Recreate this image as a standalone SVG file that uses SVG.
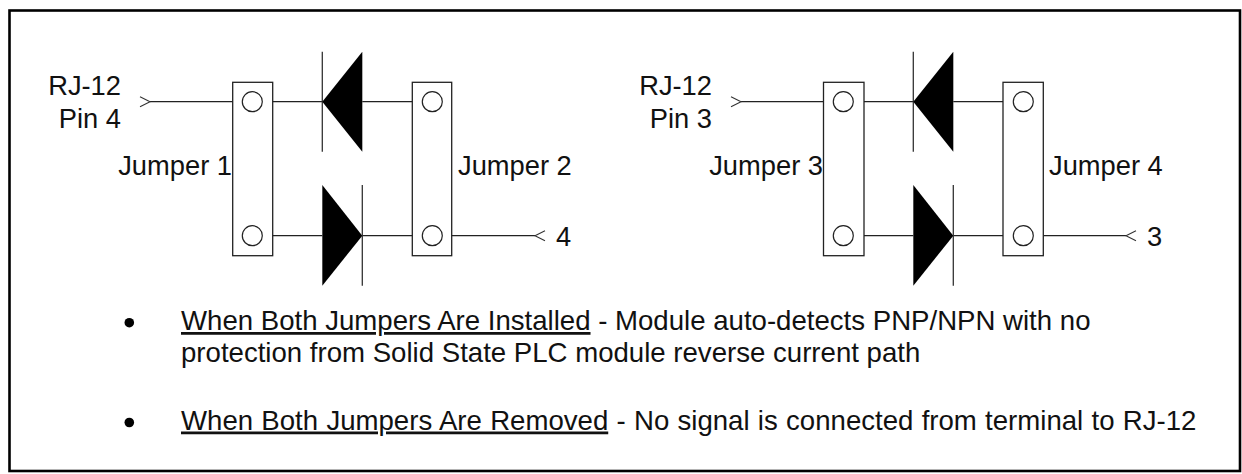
<svg xmlns="http://www.w3.org/2000/svg" width="1242" height="474" viewBox="0 0 1242 474">
  <style>
    .bg { fill: #ffffff; }
    .frame { fill: none; stroke: #000; stroke-width: 2.6; }
    .wire { fill: none; stroke: #222; stroke-width: 1.3; }
    .jbox { fill: #fff; stroke: #222; stroke-width: 1.3; }
    .pin { fill: #fff; stroke: #222; stroke-width: 1.2; }
    .tri { fill: #000; stroke: none; }
    .bar { fill: none; stroke: #333; stroke-width: 1.3; }
    .chev { fill: none; stroke: #333; stroke-width: 1.1; }
    .lbl { font-family: "Liberation Sans", Arial, sans-serif; font-size: 27.3px; fill: #111; }
    .txt { font-family: "Liberation Sans", Arial, sans-serif; font-size: 27.6px; fill: #111; }
    .bullet { fill: #000; }
  </style>
  <rect class="bg" x="0" y="0" width="1242" height="474"/>
  <rect class="frame" x="9.5" y="10.5" width="1230.5" height="460.5"/>

  <g id="connectors">
    <!-- left circuit -->
    <line class="wire" x1="150" y1="101.7" x2="242.3" y2="101.7"/>
    <line class="wire" x1="262.3" y1="101.7" x2="322.3" y2="101.7"/>
    <line class="wire" x1="362.3" y1="101.7" x2="422.3" y2="101.7"/>
    <line class="wire" x1="262.3" y1="235.7" x2="322.3" y2="235.7"/>
    <line class="wire" x1="362.3" y1="235.7" x2="422.3" y2="235.7"/>
    <line class="wire" x1="442.3" y1="235.7" x2="535" y2="235.7"/>
    <!-- right circuit -->
    <line class="wire" x1="741" y1="101.7" x2="833.3" y2="101.7"/>
    <line class="wire" x1="853.3" y1="101.7" x2="913.3" y2="101.7"/>
    <line class="wire" x1="953.3" y1="101.7" x2="1013.3" y2="101.7"/>
    <line class="wire" x1="853.3" y1="235.7" x2="913.3" y2="235.7"/>
    <line class="wire" x1="953.3" y1="235.7" x2="1013.3" y2="235.7"/>
    <line class="wire" x1="1033.3" y1="235.7" x2="1126" y2="235.7"/>
  </g>

  <!-- Left circuit -->
  <g id="rj12-pin4">
    <polyline class="chev" points="140,96.7 150,101.7 140,106.7"/>
    <text class="lbl" x="121" y="95" text-anchor="end">RJ-12</text>
    <text class="lbl" x="121" y="128.3" text-anchor="end">Pin 4</text>
  </g>
  <g id="jumper1">
    <rect class="jbox" x="232.7" y="82.3" width="40" height="173.4"/>
    <circle class="pin" cx="252.3" cy="101.7" r="10"/>
    <circle class="pin" cx="252.3" cy="235.7" r="10"/>
    <text class="lbl" x="232" y="175" text-anchor="end">Jumper 1</text>
  </g>
  <g id="diode1">
    <line class="bar" x1="322.3" y1="51.7" x2="322.3" y2="151.7"/>
    <polygon class="tri" points="322.3,101.7 362.3,51.7 362.3,151.7"/>
  </g>
  <g id="diode2">
    <line class="bar" x1="362.3" y1="185" x2="362.3" y2="285.7"/>
    <polygon class="tri" points="322.3,185 322.3,285.7 362.3,235.7"/>
  </g>
  <g id="jumper2">
    <rect class="jbox" x="412.3" y="82.3" width="39.4" height="173.4"/>
    <circle class="pin" cx="432.3" cy="101.7" r="10"/>
    <circle class="pin" cx="432.3" cy="235.7" r="10"/>
    <text class="lbl" x="458" y="175">Jumper 2</text>
  </g>
  <g id="terminal4">
    <polyline class="chev" points="545,230.7 535,235.7 545,240.7"/>
    <text class="lbl" x="556" y="245.5">4</text>
  </g>

  <!-- Right circuit -->
  <g id="rj12-pin3">
    <polyline class="chev" points="731,96.7 741,101.7 731,106.7"/>
    <text class="lbl" x="712" y="95" text-anchor="end">RJ-12</text>
    <text class="lbl" x="712" y="128.3" text-anchor="end">Pin 3</text>
  </g>
  <g id="jumper3">
    <rect class="jbox" x="823.5" y="82.3" width="40.5" height="173.4"/>
    <circle class="pin" cx="843.3" cy="101.7" r="10"/>
    <circle class="pin" cx="843.3" cy="235.7" r="10"/>
    <text class="lbl" x="823" y="175" text-anchor="end">Jumper 3</text>
  </g>
  <g id="diode3">
    <line class="bar" x1="913.3" y1="51.7" x2="913.3" y2="151.7"/>
    <polygon class="tri" points="913.3,101.7 953.3,51.7 953.3,151.7"/>
  </g>
  <g id="diode4">
    <line class="bar" x1="953.3" y1="185" x2="953.3" y2="285.7"/>
    <polygon class="tri" points="913.3,185 913.3,285.7 953.3,235.7"/>
  </g>
  <g id="jumper4">
    <rect class="jbox" x="1003" y="82.3" width="40.3" height="173.4"/>
    <circle class="pin" cx="1023.3" cy="101.7" r="10"/>
    <circle class="pin" cx="1023.3" cy="235.7" r="10"/>
    <text class="lbl" x="1049" y="175">Jumper 4</text>
  </g>
  <g id="terminal3">
    <polyline class="chev" points="1136,230.7 1126,235.7 1136,240.7"/>
    <text class="lbl" x="1147" y="245.5">3</text>
  </g>

  <!-- Notes -->
  <g id="note1">
    <circle class="bullet" cx="129.3" cy="322.7" r="4.8"/>
    <text class="txt" x="181" y="330"><tspan text-decoration="underline">When Both Jumpers Are Installed</tspan> - Module auto-detects PNP/NPN with no</text>
    <text class="txt" x="181" y="362">protection from Solid State PLC module reverse current path</text>
  </g>
  <g id="note2">
    <circle class="bullet" cx="129.3" cy="422.5" r="4.8"/>
    <text class="txt" x="181" y="429.5" word-spacing="0.6"><tspan text-decoration="underline">When Both Jumpers Are Removed</tspan> - No signal is connected from terminal to RJ-12</text>
  </g>
</svg>
